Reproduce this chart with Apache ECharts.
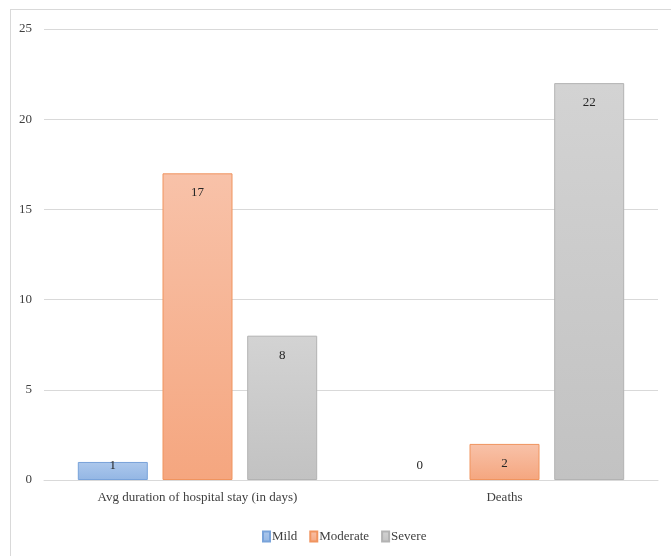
<!DOCTYPE html>
<html>
<head>
<meta charset="utf-8">
<script src="https://cdn.jsdelivr.net/npm/echarts@6/dist/echarts.min.js"></script>
<style>
html,body{margin:0;padding:0;background:#fff;}
#frame{position:absolute;left:10px;top:9px;width:680px;height:560px;border-left:1px solid #d9d9d9;border-top:1px solid #d9d9d9;}
#chart{position:absolute;left:0;top:0;width:671px;height:556px;}
</style>
</head>
<body>
<div id="frame"></div>
<div id="chart"></div>
<script>
const categories = ['Avg duration of hospital stay (in days)', 'Deaths'];
const seriesNames = ['Mild', 'Moderate', 'Severe'];
const mild = [1, 0];
const moderate = [17, 2];
const severe = [8, 22];
const yTicks = [0, 5, 10, 15, 20, 25];

const styles = {
  Mild: { top: '#adc8ec', bottom: '#93b6e4', border: '#79a3da' },
  Moderate: { top: '#f8c2a9', bottom: '#f5a67f', border: '#f0945f' },
  Severe: { top: '#d3d3d3', bottom: '#c2c2c2', border: '#b3b3b3' }
};

const FONT = '"Liberation Serif", "Times New Roman", serif';

function grad(s) {
  return new echarts.graphic.LinearGradient(0, 0, 0, 1, [
    { offset: 0, color: s.top },
    { offset: 1, color: s.bottom }
  ]);
}

function makeData(values) {
  return values.map(v => {
    const item = { value: v };
    if (v < 2) {
      item.label = { position: 'insideBottom', distance: 8 };
    }
    if (v === 0) {
      item.itemStyle = { borderWidth: 0 };
    }
    return item;
  });
}

const valuesByName = { Mild: mild, Moderate: moderate, Severe: severe };

const chart = echarts.init(document.getElementById('chart'), null, { renderer: 'canvas' });
chart.setOption({
  animation: false,
  backgroundColor: 'transparent',
  textStyle: { fontFamily: FONT },
  grid: { left: 44, right: 13, top: 29, bottom: 76, containLabel: false },
  legend: {
    data: seriesNames,
    left: 257,
    top: 525,
    itemWidth: 7,
    itemHeight: 10,
    itemGap: 12,
    icon: 'rect',
    textStyle: { fontFamily: FONT, fontSize: 13, color: '#404040', padding: [0, 0, 0, -3] }
  },
  xAxis: {
    type: 'category',
    data: categories,
    axisLine: { show: true, lineStyle: { color: '#d9d9d9', width: 1 } },
    axisTick: { show: false },
    axisLabel: { fontFamily: FONT, fontSize: 13, color: '#404040', margin: 11 }
  },
  yAxis: {
    type: 'value',
    min: yTicks[0],
    max: yTicks[yTicks.length - 1],
    interval: 5,
    axisLine: { show: false },
    axisTick: { show: false },
    splitLine: { lineStyle: { color: '#d9d9d9', width: 1 } },
    axisLabel: { fontFamily: FONT, fontSize: 13, color: '#404040', margin: 12 }
  },
  series: seriesNames.map(name => ({
    name: name,
    type: 'bar',
    barWidth: 70,
    barGap: '21%',
    data: makeData(valuesByName[name]),
    itemStyle: {
      color: grad(styles[name]),
      borderColor: styles[name].border,
      borderWidth: 1
    },
    label: {
      show: true,
      position: 'insideTop',
      distance: 13,
      fontFamily: FONT,
      fontSize: 13,
      color: '#262626'
    }
  }))
});
</script>
</body>
</html>
